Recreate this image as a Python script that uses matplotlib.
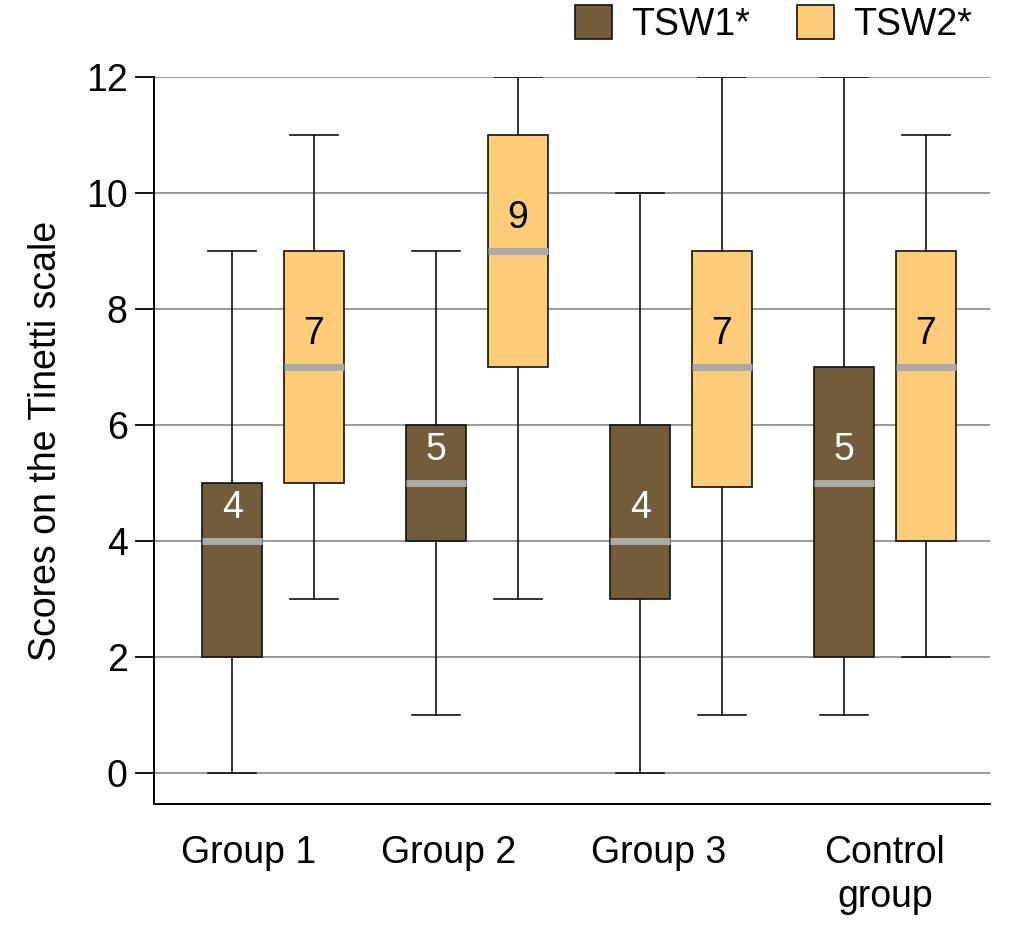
import matplotlib.pyplot as plt
from matplotlib.patches import Patch

plt.rcParams['font.family'] = ['Liberation Sans', 'DejaVu Sans']

groups = ["Group 1", "Group 2", "Group 3", "Control\ngroup"]
series = ["TSW1*", "TSW2*"]
colors = ["#735c3a", "#fecc78"]

# min, q1, median, q3, max per group
tsw1 = [
    [0, 2, 4, 5, 9],
    [1, 4, 5, 6, 9],
    [0, 3, 4, 6, 10],
    [1, 2, 5, 7, 12],
]
tsw2 = [
    [3, 5, 7, 9, 11],
    [3, 7, 9, 11, 12],
    [1, 4.93, 7, 9, 12],
    [2, 4, 7, 9, 11],
]
label_colors = ["white", "black"]

fs = 27
fig = plt.figure(figsize=(10.16, 9.47), dpi=100)
ax = fig.add_axes([0.1516, 0.151, 0.8228, 0.7677])

offset = 0.2
width = 0.294
for s, data in enumerate([tsw1, tsw2]):
    stats = []
    pos = []
    for i, (lo, q1, med, q3, hi) in enumerate(data):
        stats.append(dict(whislo=lo, q1=q1, med=med, q3=q3, whishi=hi, fliers=[]))
        pos.append(i + (offset if s else -offset))
    ax.bxp(stats, positions=pos, widths=width, patch_artist=True, showfliers=False,
           boxprops=dict(facecolor=colors[s], edgecolor="#111111", linewidth=1.2),
           medianprops=dict(color="#aaaaaa", linewidth=5, solid_capstyle="butt"),
           whiskerprops=dict(color="#111111", linewidth=1.2),
           capprops=dict(color="#111111", linewidth=1.2), capwidths=width * 0.8,
           manage_ticks=False, zorder=3)
    for p, row in zip(pos, data):
        ax.text(p, row[2] + 0.57, f"{row[2]:g}", ha="center", va="center",
                fontsize=fs, color=label_colors[s], zorder=5)

# group labels sit a little left of the pair centres in the original
label_shift = [-0.12, -0.14, -0.11, 0.0]
ax.set_xlim(-0.583, 3.515)
ax.set_ylim(-0.534, 12)
ax.set_yticks(range(0, 13, 2))
ax.set_xticks([i + d for i, d in enumerate(label_shift)])
ax.set_xticklabels(groups, fontsize=fs, linespacing=1.3)
ax.tick_params(axis="x", length=0, pad=22)
ax.tick_params(axis="y", labelsize=fs, length=14, width=1.3, pad=5)
ax.grid(axis="y", color="#999999", linewidth=1.4, zorder=0)
ax.set_axisbelow(True)
for side in ["top", "right"]:
    ax.spines[side].set_visible(False)
for side in ["left", "bottom"]:
    ax.spines[side].set_linewidth(1.4)
ax.set_ylabel("Scores on the Tinetti scale", fontsize=fs, labelpad=16)

handles = [Patch(facecolor=c, edgecolor="#111111", linewidth=1.2) for c in colors]
fig.legend(handles, series, loc="upper right", bbox_to_anchor=(0.99, 1.03), ncol=2,
           frameon=False, fontsize=fs, handlelength=1.0, handleheight=1.0,
           columnspacing=1.25, handletextpad=0.5)

fig.savefig("out.png", dpi=100)
